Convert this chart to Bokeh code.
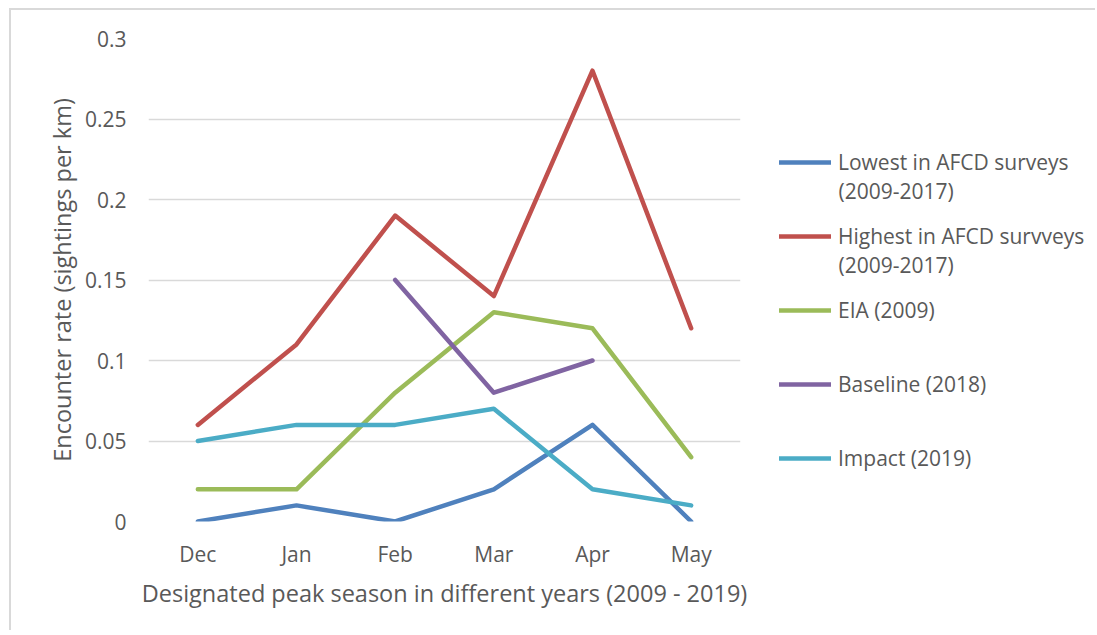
from bokeh.plotting import figure
from bokeh.layouts import row
from bokeh.models import FactorRange, Range1d, Legend, LegendItem, FixedTicker, Label
from bokeh.embed import file_html
from bokeh.resources import INLINE

nan = float("nan")
months = ["Dec", "Jan", "Feb", "Mar", "Apr", "May"]
lowest = [0.0, 0.01, 0.0, 0.02, 0.06, 0.0]
highest = [0.06, 0.11, 0.19, 0.14, 0.28, 0.12]
eia = [0.02, 0.02, 0.08, 0.13, 0.12, 0.04]
baseline = [nan, nan, 0.15, 0.08, 0.10, nan]
impact = [0.05, 0.06, 0.06, 0.07, 0.02, 0.01]
series_labels = ["Lowest in AFCD surveys", "Highest in AFCD survveys",
                 "EIA (2009)", "Baseline (2018)", "Impact (2019)"]
series_sublabels = ["(2009-2017)", "(2009-2017)", "", "", ""]
colors = ["#4F81BD", "#C0504D", "#9BBB59", "#8064A2", "#4BACC6"]
yticks = [0, 0.05, 0.1, 0.15, 0.2, 0.25, 0.3]
ytick_labels = ["0", "0.05", "0.1", "0.15", "0.2", "0.25", "0.3"]

FONT = "Open Sans"
TXT = "#595959"
TICK_FS = "21px"
TITLE_FS = "23.5px"
LEG_FS = "21px"
H = 620
MB_TOP, MB_BOTTOM = 28, 109

p = figure(width=739, height=H, x_range=FactorRange(*months, range_padding=0),
           y_range=Range1d(0, 0.3), output_backend="svg", toolbar_location=None,
           min_border_left=137, min_border_right=10, min_border_top=MB_TOP,
           min_border_bottom=MB_BOTTOM)
p.outline_line_color = None
p.xgrid.grid_line_color = None
p.ygrid.grid_line_color = "#D9D9D9"
p.ygrid.grid_line_width = 1.5
p.yaxis.ticker = FixedTicker(ticks=yticks)
p.yaxis.major_label_overrides = {t: l for t, l in zip(yticks, ytick_labels)}

for ax in (p.xaxis[0], p.yaxis[0]):
    ax.axis_line_color = None
    ax.major_tick_line_color = None
    ax.minor_tick_line_color = None
    ax.major_tick_in = 0
    ax.major_tick_out = 0
    ax.minor_tick_in = 0
    ax.minor_tick_out = 0
    ax.major_label_text_font = FONT
    ax.major_label_text_font_size = TICK_FS
    ax.major_label_text_color = TXT
    ax.axis_label_text_font = FONT
    ax.axis_label_text_font_size = TITLE_FS
    ax.axis_label_text_color = TXT
    ax.axis_label_text_font_style = "normal"

p.xaxis.axis_label = "Designated peak season in different years (2009 - 2019)"
p.yaxis.axis_label = "Encounter rate (sightings per km)"
p.yaxis.major_label_standoff = 22
p.xaxis.major_label_standoff = 18
p.xaxis.axis_label_standoff = 6
p.yaxis.axis_label_standoff = 4

all_series = [lowest, highest, eia, baseline, impact]
for ys, c in zip(all_series, colors):
    p.line(months, ys, line_color=c, line_width=4.5, line_join="round", line_cap="round")

# legend panel: its frame is aligned with the main frame (page y 38..521);
# y range is set so one data unit = one pixel, increasing downwards
LW = 345
p2 = figure(width=LW, height=H, x_range=Range1d(0, LW), y_range=Range1d(521, 38),
            output_backend="svg", toolbar_location=None,
            min_border_left=0, min_border_right=0, min_border_top=MB_TOP,
            min_border_bottom=MB_BOTTOM)
p2.axis.visible = False
p2.grid.visible = False
p2.outline_line_color = None

items = []
for ys, lab, c in zip(all_series, series_labels, colors):
    r = p2.line(list(range(len(months))), ys, line_color=c, line_width=4.5,
                line_cap="round", visible=False)
    items.append(LegendItem(label=lab, renderers=[r]))

legend = Legend(items=items, location=(29, 26), orientation="vertical",
                border_line_color=None, background_fill_alpha=0, padding=0, margin=0,
                spacing=0, glyph_width=52, glyph_height=20, label_standoff=7,
                label_height=74, inactive_fill_alpha=0,
                label_text_font=FONT, label_text_font_size=LEG_FS, label_text_color=TXT)
p2.add_layout(legend, "center")

# second lines of the two-line legend entries
first_center = 162
for i, sub in enumerate(series_sublabels):
    if sub:
        p2.add_layout(Label(x=29 + 52 + 7, y=first_center + 74 * i + 28, text=sub,
                            text_font=FONT, text_font_size=LEG_FS, text_color=TXT,
                            text_baseline="middle", text_align="left"))

layout = row(p, p2, styles={"border-left": "2px solid #D9D9D9", "border-top": "2px solid #D9D9D9",
                            "margin-left": "9px", "margin-top": "8px"})

open("out.html", "w").write(file_html(layout, INLINE))
